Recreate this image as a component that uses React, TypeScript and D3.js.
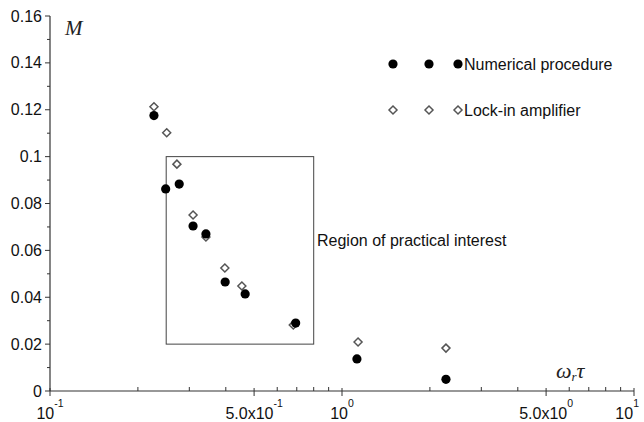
import React from "react";
import * as d3 from "d3";

// omega_r * tau values and M values
const numX = [0.227, 0.249, 0.277, 0.309, 0.342, 0.398, 0.466, 0.694, 1.125, 2.27];
const numY = [0.1175, 0.0862, 0.0883, 0.0704, 0.067, 0.0465, 0.0414, 0.029, 0.0137, 0.005];
const lockX = [0.227, 0.251, 0.272, 0.309, 0.342, 0.397, 0.454, 0.681, 1.135, 2.27];
const lockY = [0.1213, 0.1102, 0.0968, 0.0751, 0.0657, 0.0525, 0.0448, 0.0282, 0.0209, 0.0183];

const regionX = [0.25, 0.8];
const regionY = [0.02, 0.1];

const xMajor = [0.1, 0.5, 1, 5, 10];
const xMajorBase = ["10", "5.0x10", "10", "5.0x10", "10"];
const xMajorExp = ["-1", "-1", "0", "0", "1"];
const xMinor = [0.2, 0.3, 0.4, 0.6, 0.7, 0.8, 0.9, 2, 3, 4, 6, 7, 8, 9];
const yMajor = [0, 0.02, 0.04, 0.06, 0.08, 0.1, 0.12, 0.14, 0.16];
const yMinor = [0.01, 0.03, 0.05, 0.07, 0.09, 0.11, 0.13, 0.15];

const W = 644;
const H = 422;
const sans = "'Liberation Sans', Arial, sans-serif";
const serif = "'Liberation Serif', 'Times New Roman', serif";
const axisColor = "#333";

const Dot = ({ cx, cy }: { cx: number; cy: number }) => (
  <circle cx={cx} cy={cy} r={4.6} fill="#000" />
);

const Diamond = ({ cx, cy }: { cx: number; cy: number }) => (
  <path
    d={`M${cx},${cy - 4}L${cx + 4},${cy}L${cx},${cy + 4}L${cx - 4},${cy}Z`}
    fill="#fff"
    stroke="#555"
    strokeWidth={1.5}
  />
);

export default function App() {
  const x = d3.scaleLog().domain([0.1, 10]).range([50, 634]);
  const y = d3.scaleLinear().domain([0, 0.16]).range([391, 16]);
  const y0 = y(0);

  const legendMarks = [393, 429, 458];

  return (
    <svg
      width={W}
      height={H}
      style={{ position: "fixed", left: 0, top: 0, background: "#fff" }}
    >
      <rect width={W} height={H} fill="#fff" />

      {/* axes */}
      <line x1={x(0.1)} x2={x(10)} y1={y0} y2={y0} stroke={axisColor} strokeWidth={1.2} />
      <line x1={x(0.1)} x2={x(0.1)} y1={y0} y2={y(0.16)} stroke={axisColor} strokeWidth={1.2} />

      {xMajor.map((v, i) => {
        const last = i === xMajor.length - 1;
        return (
          <g key={"xm" + i}>
            <line x1={x(v)} x2={x(v)} y1={y0 - 3} y2={y0 + 5} stroke={axisColor} />
            <text
              x={last ? W - 5 : x(v)}
              y={419}
              textAnchor={last ? "end" : "middle"}
              fontFamily={sans}
              fontSize={16}
              fill="#111"
            >
              {xMajorBase[i]}
              <tspan fontSize={10.5} dy={-12}>{xMajorExp[i]}</tspan>
            </text>
          </g>
        );
      })}
      {xMinor.map((v, i) => (
        <line key={"xn" + i} x1={x(v)} x2={x(v)} y1={y0 - 4} y2={y0} stroke={axisColor} />
      ))}

      {yMajor.map((v, i) => (
        <g key={"ym" + i}>
          <line x1={45} x2={50} y1={y(v)} y2={y(v)} stroke={axisColor} />
          <text
            x={42}
            y={y(v) + 5.5}
            textAnchor="end"
            fontFamily={sans}
            fontSize={16}
            fill="#111"
          >
            {d3.format("~g")(v)}
          </text>
        </g>
      ))}
      {yMinor.map((v, i) => (
        <line key={"yn" + i} x1={47} x2={50} y1={y(v)} y2={y(v)} stroke={axisColor} />
      ))}

      {/* axis labels */}
      <text x={65} y={35} fontFamily={serif} fontStyle="italic" fontSize={21} fill="#222">
        M
      </text>
      <text x={556} y={378} fontFamily={serif} fontStyle="italic" fontSize={22} fill="#222">
        ω<tspan fontSize={13} dy={3}>r</tspan>
        <tspan dy={-3}>τ</tspan>
      </text>

      {/* region of practical interest */}
      <rect
        x={x(regionX[0])}
        y={y(regionY[1])}
        width={x(regionX[1]) - x(regionX[0])}
        height={y(regionY[0]) - y(regionY[1])}
        fill="none"
        stroke="#444"
        strokeWidth={1}
      />
      <text x={317} y={246} fontFamily={sans} fontSize={16} fill="#111">
        Region of practical interest
      </text>

      {/* data */}
      {lockX.map((v, i) => (
        <Diamond key={"l" + i} cx={x(v)} cy={y(lockY[i])} />
      ))}
      {numX.map((v, i) => (
        <Dot key={"n" + i} cx={x(v)} cy={y(numY[i])} />
      ))}

      {/* legend */}
      {legendMarks.map((lx, i) => (
        <Dot key={"ld" + i} cx={lx} cy={64} />
      ))}
      <text x={464} y={69.5} fontFamily={sans} fontSize={16} fill="#111">
        Numerical procedure
      </text>
      {legendMarks.map((lx, i) => (
        <Diamond key={"ll" + i} cx={lx} cy={110} />
      ))}
      <text x={464} y={115.5} fontFamily={sans} fontSize={16} fill="#111">
        Lock-in amplifier
      </text>
    </svg>
  );
}
